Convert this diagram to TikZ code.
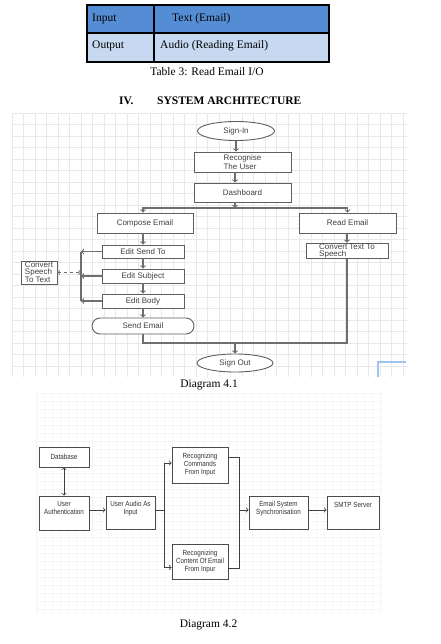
\documentclass[tikz,border=0pt]{standalone}
\usepackage{fontspec}
\setmainfont{Liberation Serif}
\newfontfamily\flowfont{Liberation Sans}
\newfontfamily\narrowfont[FakeStretch=0.85]{Liberation Sans}
\usetikzlibrary{shapes.geometric,shadows}
\definecolor{rowone}{RGB}{84,141,212}
\definecolor{rowtwo}{RGB}{198,217,241}
\definecolor{gridgray}{RGB}{233,233,233}
\definecolor{faintgray}{RGB}{245,245,245}
\definecolor{linegray}{RGB}{110,110,110}
\definecolor{boxgray}{RGB}{95,95,95}
\definecolor{markblue}{RGB}{160,195,240}
\tikzset{
  serif/.style={inner sep=0pt, font=\fontsize{11.5}{13}\selectfont},
  flowbox/.style={draw=boxgray, line width=0.9pt, fill=white, inner sep=1pt, text=black!75,
    font=\flowfont\fontsize{8}{6.5}\selectfont},
  flowoval/.style={flowbox, ellipse},
  flowline/.style={draw=linegray, line width=1.1pt},
  archbox/.style={draw=black!70, line width=0.8pt, fill=white, inner sep=1pt, text=black!80, align=center,
    font=\narrowfont\fontsize{7.4}{8}\selectfont,
    drop shadow={shadow xshift=1.2pt, shadow yshift=-1.2pt, fill=black!20, opacity=0.5}},
  archline/.style={draw=black!75, line width=0.8pt}
}
\begin{document}
\begin{tikzpicture}[x=1pt, y=-1pt]
    \fill[white] (0,0) rectangle (440,644);

    \fill[rowone] (87,5) rectangle (329,33);
    \fill[rowtwo] (87,33) rectangle (329,62);
    \draw[line width=1.2pt] (87,5) rectangle (329,62);
    \draw[line width=1.2pt] (87,33) -- (329,33);
    \draw[line width=1.2pt] (154,5) -- (154,62);
    \node[serif, anchor=west] (inp) at (92,18.5) {Input};
    \node[serif, anchor=west] (inpval) at (172,18.5) {Text (Email)};
    \node[serif, anchor=west] (outp) at (92,46) {Output};
    \node[serif, anchor=west] (outpval) at (160,46) {Audio (Reading Email)};
    \node[serif] (tabcap) at (207,72) {Table 3: Read Email I/O};
    \node[serif, anchor=west, font=\bfseries\fontsize{11.5}{13}\selectfont] (secnum) at (119,101) {IV.};
    \node[serif, anchor=west, font=\bfseries\fontsize{11.5}{13}\selectfont] (sectitle) at (157,101) {SYSTEM ARCHITECTURE};

    \draw[gridgray, line width=0.5pt, shift={(12,113)}] (0,0) grid[step=11.5pt] (395,264);
    \draw[markblue, line width=1.5pt] (406,362) -- (378,362) -- (378,377);

    \node[flowoval, minimum width=77pt, minimum height=19pt] (sin) at (236,131) {Sign-In};
    \node[flowbox, minimum width=97pt, minimum height=20pt, align=left] (rec) at (242.5,162) {Recognise\\The User};
    \node[flowbox, minimum width=97pt, minimum height=19pt] (dash) at (242.5,192.5) {Dashboard};
    \node[flowbox, minimum width=96pt, minimum height=20pt] (comp) at (145,223) {Compose Email};
    \node[flowbox, minimum width=97pt, minimum height=20pt] (read) at (347.5,223) {Read Email};
    \node[flowbox, minimum width=82pt, minimum height=13pt] (sendto) at (143,251.5) {Edit Send To};
    \node[flowbox, minimum width=82pt, minimum height=14pt, align=left] (tts) at (347,251) {Convert Text To\\Speech};
    \node[flowbox, minimum width=82pt, minimum height=14pt] (subj) at (143,276) {Edit Subject};
    \node[flowbox, minimum width=82pt, minimum height=14pt] (body) at (143,301) {Edit Body};
    \node[flowbox, minimum width=102pt, minimum height=16pt, rounded corners=8pt] (send) at (143,326) {Send Email};
    \node[flowoval, minimum width=76pt, minimum height=18pt] (sout) at (235,363) {Sign Out};
    \node[flowbox, minimum width=36pt, minimum height=23pt, align=left] (stt) at (39,272.5) {Convert\\Speech\\To Text};

    \coordinate (fork) at (235,208);
    \coordinate (bus) at (81,276);
    \coordinate (join) at (235,343);

    \draw[flowline, ->] (sin.south) -- (sin.south |- rec.north);
    \draw[flowline, ->] (rec.south -| fork) -- (fork |- dash.north);
    \draw[flowline, ->] (dash.south -| fork) -- (fork);
    \draw[flowline, ->] (fork) -| (sendto.north |- comp.north);
    \draw[flowline, ->] (fork) -| (read.north);
    \draw[flowline, ->] (sendto.north |- comp.south) -- (sendto.north);
    \draw[flowline, ->] (sendto) -- (subj);
    \draw[flowline, ->] (subj) -- (body);
    \draw[flowline, ->] (body) -- (send);
    \draw[flowline, ->] (tts.north |- read.south) -- (tts.north);

    \draw[flowline] (sendto.west -| bus) -- (body.west -| bus);
    \draw[flowline, ->] (sendto.west) -- (sendto.west -| bus);
    \draw[flowline, ->] (subj.west) -- (subj.west -| bus);
    \draw[flowline, ->] (body.west) -- (body.west -| bus);
    \draw[flowline, <->, dashed, line width=0.8pt] (stt.east) -- (stt.east -| bus);

    \draw[flowline] (send.south) |- (join) -| (tts.south);
    \draw[flowline, ->] (join) -- (sout.north);

    \node[serif] (capone) at (209,385) {Diagram 4.1};

    \draw[faintgray, line width=0.5pt, shift={(36,393)}] (0,0) grid[step=8pt] (346,221);

    \node[archbox, minimum width=50pt, minimum height=20pt] (db) at (64,457) {Database};
    \node[archbox, minimum width=50pt, minimum height=34pt, text depth=10pt] (auth) at (64,513) {User\\Authentication};
    \node[archbox, minimum width=49pt, minimum height=33pt, text depth=10pt] (audio) at (130.5,512.5) {User Audio As\\Input};
    \node[archbox, minimum width=56pt, minimum height=36pt] (cmd) at (200,465) {Recognizing\\Commands\\From Input};
    \node[archbox, minimum width=56pt, minimum height=35pt] (cont) at (200,561.5) {Recognizing\\Content Of Email\\From Inpur};
    \node[archbox, minimum width=59pt, minimum height=33pt, text depth=10pt] (sync) at (278.5,512.5) {Email System\\Synchronisation};
    \node[archbox, minimum width=52pt, minimum height=33pt, text depth=16pt] (smtp) at (353,512.5) {SMTP Server};

    \coordinate (fan) at (164,510);
    \coordinate (merge) at (239,510);

    \draw[archline, <->] (db) -- (auth);
    \draw[archline, ->] (auth.east |- fan) -- (audio.west |- fan);
    \draw[archline] (audio.east |- fan) -- (fan);
    \draw[archline, ->] (fan) |- ([yshift=2pt]cmd.west);
    \draw[archline, ->] (fan) |- ([yshift=-6pt]cont.west);
    \draw[archline] ([yshift=8pt]cmd.east) -| (merge);
    \draw[archline] ([yshift=-7pt]cont.east) -| (merge);
    \draw[archline, ->] (merge) -- (sync.west |- merge);
    \draw[archline, ->] (sync.east |- merge) -- (smtp.west |- merge);

    \node[serif] (captwo) at (208.5,625) {Diagram 4.2};
\end{tikzpicture}
\end{document}
